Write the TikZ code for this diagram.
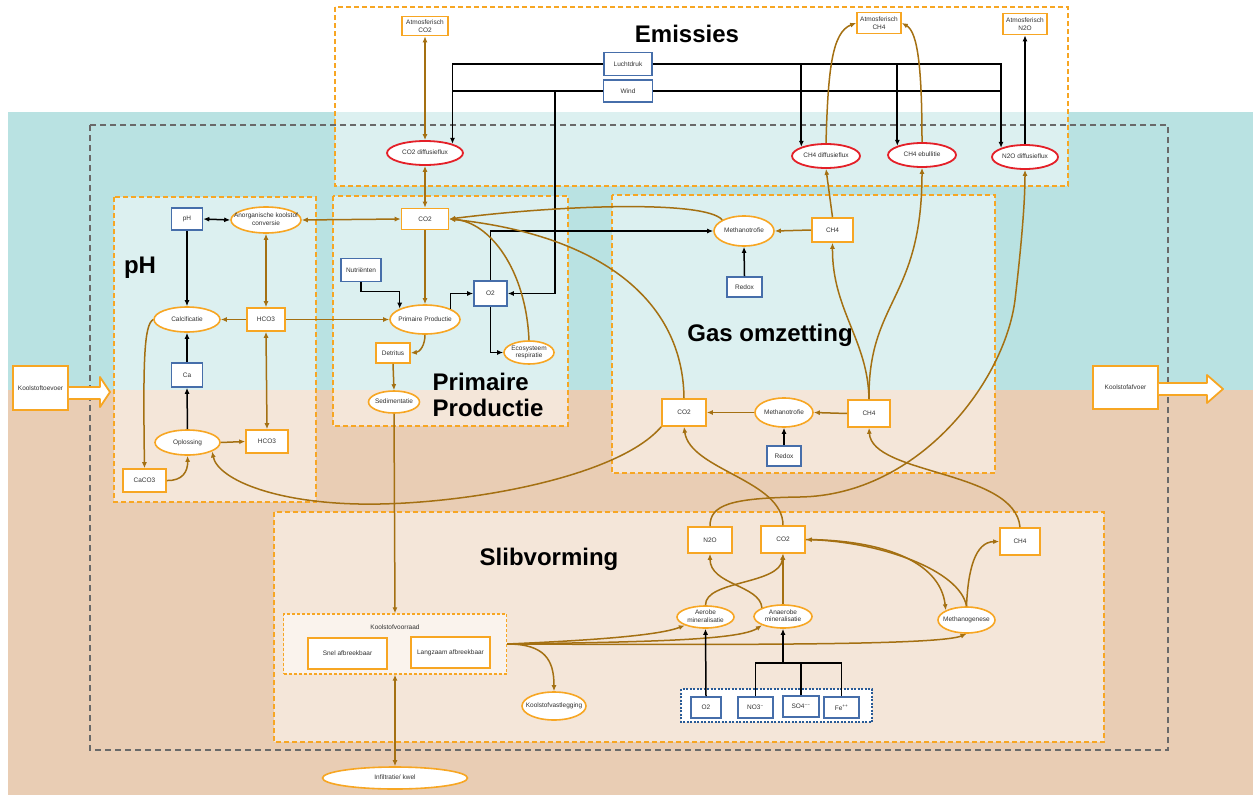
\documentclass[tikz,border=0pt]{standalone}
\usepackage{fontspec}
\setmainfont{Liberation Sans}
\usetikzlibrary{arrows.meta,shapes.geometric}
\definecolor{orangeline}{RGB}{247,166,35}
\definecolor{flowbrown}{RGB}{164,112,18}
\definecolor{ctrlblue}{RGB}{70,110,170}
\definecolor{framedot}{RGB}{40,90,150}
\definecolor{fluxred}{RGB}{228,32,40}
\definecolor{waterteal}{RGB}{185,226,226}
\definecolor{soilbrown}{RGB}{233,205,180}
\definecolor{framegray}{RGB}{105,105,105}
\definecolor{textgray}{RGB}{50,50,50}
\newcommand{\elltext}[1]{\makebox[0pt]{\begin{tabular}{@{}c@{}}#1\end{tabular}}}
\tikzset{
  smallfont/.style={font=\fontsize{6.5}{7.5}\selectfont, text=textgray},
  obox/.style={rectangle, draw=orangeline, fill=white, line width=1.6pt, smallfont, align=center, inner sep=1pt},
  bbox/.style={rectangle, draw=ctrlblue, fill=white, line width=1.6pt, smallfont, align=center, inner sep=1pt},
  oell/.style={ellipse, draw=orangeline, fill=white, line width=1.6pt, smallfont, inner sep=0pt},
  rell/.style={ellipse, draw=fluxred, fill=white, line width=1.8pt, smallfont, inner sep=0pt},
  groupbox/.style={draw=orangeline, line width=1.8pt, dash pattern=on 5pt off 3pt, fill=white, fill opacity=0.5},
  subgroup/.style={rectangle, draw=orangeline, line width=1.4pt, dash pattern=on 3pt off 2pt, fill=white, fill opacity=0.55, inner sep=0pt},
  flow/.style={draw=flowbrown, line width=1.5pt},
  ctrl/.style={draw=black, line width=1.5pt},
  heading/.style={font=\fontsize{24}{26}\selectfont\bfseries, text=black, inner sep=0pt}
}
\begin{document}
\begin{tikzpicture}[x=1pt,y=-1pt,>={Latex[length=6pt,width=5pt]}]
  \useasboundingbox (0,0) rectangle (1253,795);
  \fill[white] (0,0) rectangle (1253,795);
  \fill[waterteal] (8,112) rectangle (1253,390);
  \fill[soilbrown] (8,390) rectangle (1253,795);
  \draw[groupbox] (335,7) rectangle (1068,186);
  \draw[groupbox] (114,197) rectangle (316,502);
  \draw[groupbox] (333,196) rectangle (568,426);
  \draw[groupbox] (612,195) rectangle (995,473);
  \draw[groupbox] (274,512) rectangle (1104,742);
  \draw[framegray, line width=2pt, dash pattern=on 6pt off 4pt] (90,125) rectangle (1168,750);
  \draw[framedot, line width=1.4pt, dash pattern=on 2pt off 1.5pt, fill=white] (681,689) rectangle (872,722);
  \node[heading] (titleemis) at (687,34) {Emissies};
  \node[heading] (titleph) at (140,268) {pH};
  \node[heading, align=left] (titlepp) at (488,395) {Primaire\\Productie};
  \node[heading] (titlegas) at (770,335) {Gas omzetting};
  \node[heading] (titleslib) at (549,559) {Slibvorming};
  \node[obox, minimum width=46, minimum height=19] (atmco2) at (425,26) {Atmosferisch\\CO2};
  \node[obox, minimum width=44, minimum height=21] (atmch4) at (879,23) {Atmosferisch\\CH4};
  \node[obox, minimum width=44, minimum height=21] (atmn2o) at (1025,24) {Atmosferisch\\N2O};
  \node[bbox, minimum width=48, minimum height=23] (luchtdruk) at (628,64) {Luchtdruk};
  \node[bbox, minimum width=49, minimum height=22] (wind) at (628,91) {Wind};
  \node[rell, minimum width=76, minimum height=24] (co2diff) at (425,153) {\elltext{CO2 diffusieflux}};
  \node[rell, minimum width=68, minimum height=24] (ch4diff) at (826,156) {\elltext{CH4 diffusieflux}};
  \node[rell, minimum width=68, minimum height=24] (ch4ebul) at (922,155) {\elltext{CH4 ebullitie}};
  \node[rell, minimum width=66, minimum height=24] (n2odiff) at (1025,157) {\elltext{N2O diffusieflux}};
  \node[bbox, minimum width=31, minimum height=22] (phbox) at (187,219) {pH};
  \node[oell, minimum width=70, minimum height=26] (anorg) at (266,220) {\elltext{Anorganische koolstof\\conversie}};
  \node[oell, minimum width=66, minimum height=25] (calc) at (187,319.5) {\elltext{Calcificatie}};
  \node[obox, minimum width=38, minimum height=23] (hco3up) at (266,319.5) {HCO3};
  \node[bbox, minimum width=31, minimum height=24] (ca) at (187,375) {Ca};
  \node[oell, minimum width=65, minimum height=25] (oplos) at (187.5,442.5) {\elltext{Oplossing}};
  \node[obox, minimum width=42, minimum height=23] (hco3low) at (267,441.5) {HCO3};
  \node[obox, minimum width=43, minimum height=23] (caco3) at (144.5,480.5) {CaCO3};
  \node[obox, minimum width=47, minimum height=21] (co2pp) at (425,219) {CO2};
  \node[bbox, minimum width=40, minimum height=23] (nutr) at (361,270) {Nutriënten};
  \node[oell, minimum width=70, minimum height=29] (pprod) at (425,319.5) {\elltext{Primaire Productie}};
  \node[bbox, minimum width=33, minimum height=25] (o2pp) at (490.5,293.5) {O2};
  \node[oell, minimum width=50, minimum height=23] (ecoresp) at (529,352.5) {\elltext{Ecosysteem\\respiratie}};
  \node[obox, minimum width=34, minimum height=20] (detritus) at (393,353) {Detritus};
  \node[oell, minimum width=51, minimum height=22] (sedim) at (394,402) {\elltext{Sedimentatie}};
  \node[oell, minimum width=60, minimum height=30] (methup) at (744,231) {\elltext{Methanotrofie}};
  \node[obox, minimum width=41, minimum height=24] (ch4gasup) at (832.5,230) {CH4};
  \node[bbox, minimum width=35, minimum height=20] (redoxup) at (744.5,287) {Redox};
  \node[obox, minimum width=44, minimum height=27] (co2gaslow) at (684,412.5) {CO2};
  \node[oell, minimum width=58, minimum height=29] (methlow) at (784,412.5) {\elltext{Methanotrofie}};
  \node[obox, minimum width=42, minimum height=27] (ch4gaslow) at (869,413.5) {CH4};
  \node[bbox, minimum width=34, minimum height=20] (redoxlow) at (784,456) {Redox};
  \node[obox, minimum width=44, minimum height=26] (n2oslib) at (710,540) {N2O};
  \node[obox, minimum width=44, minimum height=27] (co2slib) at (783,539.5) {CO2};
  \node[obox, minimum width=40, minimum height=27] (ch4slib) at (1020,541.5) {CH4};
  \node[oell, minimum width=57, minimum height=22] (aerobe) at (705.5,617) {\elltext{Aerobe\\mineralisatie}};
  \node[oell, minimum width=58, minimum height=23] (anaerobe) at (783,616.5) {\elltext{Anaerobe\\mineralisatie}};
  \node[oell, minimum width=57, minimum height=26] (methgen) at (966.5,620) {\elltext{Methanogenese}};
  \node[oell, minimum width=64, minimum height=28] (kvastl) at (554,706) {\elltext{Koolstofvastlegging}};
  \node[subgroup, minimum width=223, minimum height=60] (kvoorraad) at (395,644) {};
  \node[smallfont] (kvlabel) at (395,627) {Koolstofvoorraad};
  \node[obox, minimum width=79, minimum height=31] (snel) at (347.5,653.5) {Snel afbreekbaar};
  \node[obox, minimum width=79, minimum height=31] (langzaam) at (450.5,652.5) {Langzaam afbreekbaar};
  \node[oell, minimum width=145, minimum height=22] (infiltr) at (395,778) {\elltext{Infiltratie/ kwel}};
  \node[bbox, minimum width=30, minimum height=21] (o2slib) at (706,707.5) {O2};
  \node[bbox, minimum width=35, minimum height=21] (no3) at (755.5,707.5) {NO3\textsuperscript{−}};
  \node[bbox, minimum width=36, minimum height=21] (so4) at (801,706.5) {SO4\textsuperscript{−−}};
  \node[bbox, minimum width=35, minimum height=21] (fe) at (841.5,707.5) {Fe\textsuperscript{++}};
  \node[obox, minimum width=55, minimum height=44] (toevoer) at (40.5,388) {Koolstoftoevoer};
  \node[obox, minimum width=65, minimum height=43] (afvoer) at (1125.5,387.5) {Koolstofafvoer};
  \draw[orangeline, line width=1.8pt, fill=white, line join=round] (toevoer.east |- 0,387) -- (100,387) -- (100,377) -- (110,392) -- (100,407) -- (100,399) -- (toevoer.east |- 0,399);
  \draw[orangeline, line width=1.8pt, fill=white, line join=round] (afvoer.east |- 0,383) -- (1207,383) -- (1207,375) -- (1223,389) -- (1207,403) -- (1207,395) -- (afvoer.east |- 0,395);
  \coordinate (windsplit) at (555,90);
  \coordinate (redjoin) at (783,663);
  \draw[ctrl,->] (luchtdruk.west) -| (co2diff.north east);
  \draw[ctrl] (wind.west) -- (wind.west -| co2diff.north east);
  \draw[ctrl,->] (windsplit) |- (o2pp.east);
  \draw[ctrl,->, line width=2.2pt] (luchtdruk.east) -| (ch4diff.north west);
  \draw[ctrl,->, line width=2.2pt] (luchtdruk.east) -| (ch4ebul.north west);
  \draw[ctrl,->] (luchtdruk.east) -| (n2odiff.north west);
  \draw[ctrl, line width=2.2pt] (wind.east) -- (wind.east -| n2odiff.north west);
  \draw[ctrl,->] (n2odiff.north) -- (atmn2o.south);
  \draw[flow,<->] (atmco2.south) -- (co2diff.north);
  \draw[flow,<->] (co2diff.south) -- (co2pp.north);
  \draw[flow,->] (ch4diff.north) .. controls (828,70) and (832,32) .. (atmch4.west);
  \draw[flow,->] (ch4ebul.north) .. controls (922,70) and (918,32) .. (atmch4.east);
  \draw[flow,->] (ch4gasup.north) -- (ch4diff.south);
  \draw[flow,->] (ch4gaslow.north) .. controls (868,300) and (922,300) .. (ch4ebul.south);
  \draw[flow,->] (ch4gaslow.north) .. controls (868,340) and (832,310) .. (ch4gasup.south);
  \draw[flow,->] (n2oslib.north) .. controls (710,505) and (730,498) .. (800,497) .. controls (920,495) and (1005,380) .. (1015,300) .. controls (1022,240) and (1025,200) .. (n2odiff.south);
  \draw[flow,<->] (anorg.east) -- (co2pp.west);
  \draw[ctrl,<->] (phbox.east) -- (anorg.west);
  \draw[ctrl,->] (phbox.south) -- (calc.north);
  \draw[flow,->] (hco3up.west) -- (calc.east);
  \draw[flow,<->] (anorg.south) -- (hco3up.north);
  \draw[flow,->] (hco3up.east) -- (pprod.west);
  \draw[ctrl,->] (ca.north) -- (calc.south);
  \draw[ctrl,->] (oplos.north) -- (ca.south);
  \draw[flow,->] (oplos.east) -- (hco3low.west);
  \draw[flow,<->] (hco3up.south) -- (hco3low.north);
  \draw[flow,->] (calc.west) .. controls (144,325) and (143,360) .. (caco3.north);
  \draw[flow,->] (caco3.east) .. controls (182,481) and (188,472) .. (oplos.south);
  \draw[flow,->] (co2gaslow.south west) .. controls (620,475) and (480,502) .. (380,504) .. controls (280,506) and (218,480) .. (oplos.-20);
  \draw[flow,->] (co2pp.south) -- (pprod.north);
  \draw[ctrl,->] (nutr.south) -- ++(0,9) -| (pprod.north west);
  \draw[ctrl,->] (pprod.north east) |- (o2pp.west);
  \draw[ctrl,->] (o2pp.south) |- (ecoresp.west);
  \draw[ctrl,->] (o2pp.north) |- (methup.west);
  \draw[flow,->] (ecoresp.north) .. controls (526,270) and (490,222) .. (co2pp.east);
  \draw[flow,->] (methup.north west) .. controls (705,200) and (560,205) .. (co2pp.east);
  \draw[flow,->] (co2gaslow.north) .. controls (683,300) and (600,235) .. (co2pp.east);
  \draw[flow,->] (pprod.south) .. controls (425,345) and (420,352) .. (detritus.east);
  \draw[flow,->] (detritus.south) -- (sedim.north);
  \draw[flow,->] (sedim.south) -- (kvoorraad.north);
  \draw[flow,<->] (kvoorraad.south) -- (infiltr.north);
  \draw[flow,->] (ch4gasup.west) -- (methup.east);
  \draw[ctrl,->] (redoxup.north) -- (methup.south);
  \draw[flow,->] (ch4gaslow.west) -- (methlow.east);
  \draw[flow,->] (methlow.west) -- (co2gaslow.east);
  \draw[ctrl,->, line width=2pt] (redoxlow.north) -- (methlow.south);
  \draw[flow,->] (co2slib.north) .. controls (783,480) and (690,470) .. (co2gaslow.south);
  \draw[flow,->] (ch4slib.north) .. controls (1015,470) and (872,475) .. (ch4gaslow.south);
  \draw[flow,->] (kvoorraad.east) .. controls (600,640) and (660,635) .. (aerobe.south west);
  \draw[flow,->] (kvoorraad.east) .. controls (650,642) and (740,640) .. (anaerobe.south west);
  \draw[flow,->] (kvoorraad.east) .. controls (750,645) and (940,645) .. (methgen.south);
  \draw[flow,->] (kvoorraad.east) .. controls (545,644) and (554,660) .. (kvastl.north);
  \draw[flow,->] (aerobe.north) .. controls (705,580) and (780,585) .. (co2slib.south);
  \draw[flow,->] (anaerobe.north west) .. controls (760,585) and (710,585) .. (n2oslib.south);
  \draw[flow,->] (anaerobe.north) -- (co2slib.south);
  \draw[flow,->] (methgen.north) .. controls (960,570) and (880,542) .. (co2slib.east);
  \draw[flow,->] (co2slib.east) .. controls (880,540) and (940,560) .. (methgen.north west);
  \draw[flow,->] (methgen.north) .. controls (968,570) and (975,542) .. (ch4slib.west);
  \draw[ctrl,->] (o2slib.north) -- (aerobe.south);
  \draw[ctrl] (no3.north) |- (redjoin) -| (fe.north);
  \draw[ctrl] (so4.north) -- (so4.north |- redjoin);
  \draw[ctrl,->] (redjoin) -- (anaerobe.south);
\end{tikzpicture}
\end{document}
